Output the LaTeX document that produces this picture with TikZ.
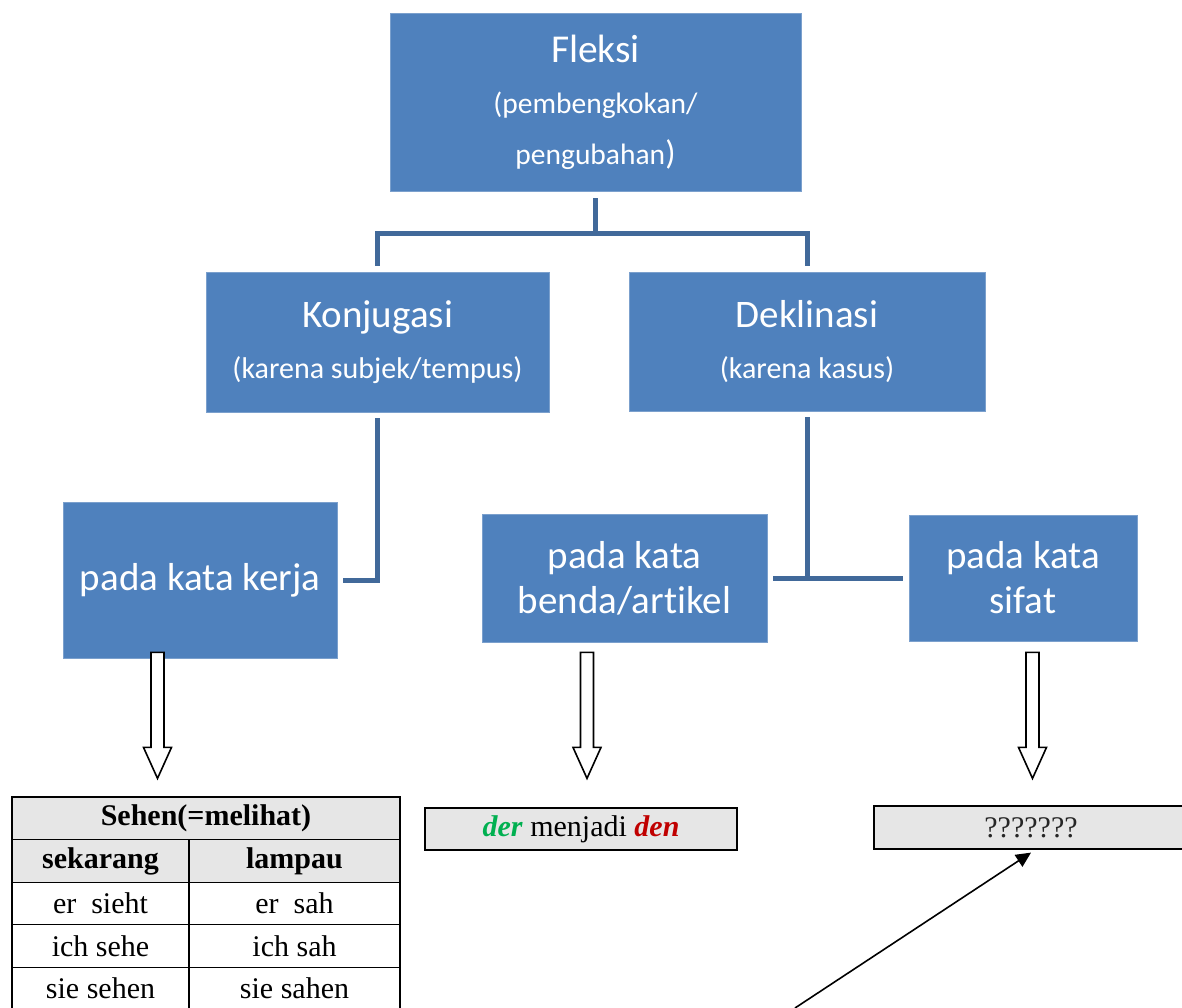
\documentclass[tikz,border=0pt]{standalone}
\usepackage{fontspec}
\setmainfont{Carlito}[Ligatures=NoCommon]
\newfontfamily\tnr{Liberation Serif}
\usetikzlibrary{calc,arrows.meta}
\definecolor{boxblue}{HTML}{4F81BD}
\definecolor{connblue}{HTML}{41699A}
\definecolor{cellgrey}{HTML}{E6E6E6}
\definecolor{dergreen}{HTML}{00B050}
\definecolor{denred}{HTML}{C00000}
\begin{document}
\begin{tikzpicture}[x=1pt,y=-1pt,
 bluebox/.style={rectangle, fill=boxblue, draw=boxblue!75!white, line width=0.8pt, text=white, inner sep=0pt, align=center, font=\fontsize{39}{51}\selectfont},
 conn/.style={draw=connblue, line width=5pt, line join=miter},
 cell/.style={rectangle, draw=black, line width=1.2pt, inner sep=0pt, font=\tnr\fontsize{30}{30}\selectfont, minimum height=42.5pt},
 hollow/.style={draw=black, line width=1.6pt, fill=white, line join=miter},
 harrow/.pic={\path[hollow] (-6.5,0) -- (6.5,0) -- (6.5,95) -- (14,95) -- (0,126) -- (-14,95) -- (-6.5,95) -- cycle;}
]
\clip (0,0) rectangle (1182,1008);
\fill[white] (0,0) rectangle (1182,1008);

% blue boxes
\node[bluebox, minimum width=411pt, minimum height=178pt, font=\fontsize{29.5}{51}\selectfont] (fleksi) at (595.5,102)
  {{\fontsize{39.5}{39}\selectfont Fleksi}\\(pembengkokan/\\pengubahan{\fontsize{34}{33}\selectfont)}};
\node[bluebox, minimum width=343pt, minimum height=140pt] (konj) at (377.5,342)
  {Konjugasi\\{\fontsize{30}{30}\selectfont (karena subjek/tempus)}};
\node[bluebox, minimum width=356pt, minimum height=139pt] (dekl) at (807,341.5)
  {Deklinasi\\{\fontsize{30}{30}\selectfont (karena kasus)}};
\node[bluebox, minimum width=274pt, minimum height=156pt] (kerja) at (200,580) {pada kata kerja};
\node[bluebox, minimum width=285pt, minimum height=128pt, font=\fontsize{39}{45}\selectfont] (benda) at (624.5,578) {pada kata\\benda/artikel};
\node[bluebox, minimum width=228pt, minimum height=126pt, font=\fontsize{39}{45}\selectfont] (sifat) at (1023,578) {pada kata\\sifat};

% connectors
\draw[conn] ($(fleksi.south)+(0,7)$) -- ($(fleksi.south)+(0,42)$);
\draw[conn] ($(konj.north)+(0,-6)$) |- ($(fleksi.south)+(0,42)$) -| ($(dekl.north)+(0,-6)$);
\draw[conn] ($(konj.south)+(0,6)$) |- ($(kerja.east)+(6,0)$);
\draw[conn] ($(dekl.south)+(0,6)$) -- (dekl.south |- benda.east);
\draw[conn] ($(benda.east)+(6,0)$) -- ($(sifat.west)+(-6,0)$);

% hollow arrows
\pic at ($(kerja.south)+(-42.5,-6)$) {harrow};
\pic at ($(benda.south)+(-37.5,10)$) {harrow};
\pic at ($(sifat.south)+(9.5,11)$) {harrow};

% table
\node[cell, fill=cellgrey, minimum width=388pt, minimum height=43pt, font=\tnr\bfseries\fontsize{30}{30}\selectfont] (thead) at (206,818.5) {Sehen(=melihat)};
\node[cell, fill=cellgrey, minimum width=177pt, font=\tnr\bfseries\fontsize{30}{30}\selectfont] (sek) at (100.5,861) {sekarang};
\node[cell, fill=cellgrey, minimum width=211pt, font=\tnr\bfseries\fontsize{30}{30}\selectfont] (lam) at (294.5,861) {lampau};
\node[cell, minimum width=177pt] (a1) at (100.5,903.5) {er~~sieht};
\node[cell, minimum width=211pt] (b1) at (294.5,903.5) {er~~sah};
\node[cell, minimum width=177pt] (a2) at (100.5,946) {ich sehe};
\node[cell, minimum width=211pt] (b2) at (294.5,946) {ich sah};
\node[cell, minimum width=177pt] (a3) at (100.5,988.5) {sie sehen};
\node[cell, minimum width=211pt] (b3) at (294.5,988.5) {sie sahen};

% result boxes
\node[cell, fill=cellgrey, minimum width=312pt, minimum height=42pt] (derbox) at (581,829)
  {\textcolor{dergreen}{\textbf{\textit{der}}} menjadi \textcolor{denred}{\textbf{\textit{den}}}};
\node[cell, fill=cellgrey, minimum width=314pt, minimum height=43pt, text=black!85] (qbox) at (1031,827.5) {???????};

% pointer arrow
\coordinate (src) at (795,1008);
\draw[line width=1.6pt, -{Triangle[length=15pt,width=14pt]}] (src) -- ([yshift=-3pt]qbox.south);
\end{tikzpicture}
\end{document}
